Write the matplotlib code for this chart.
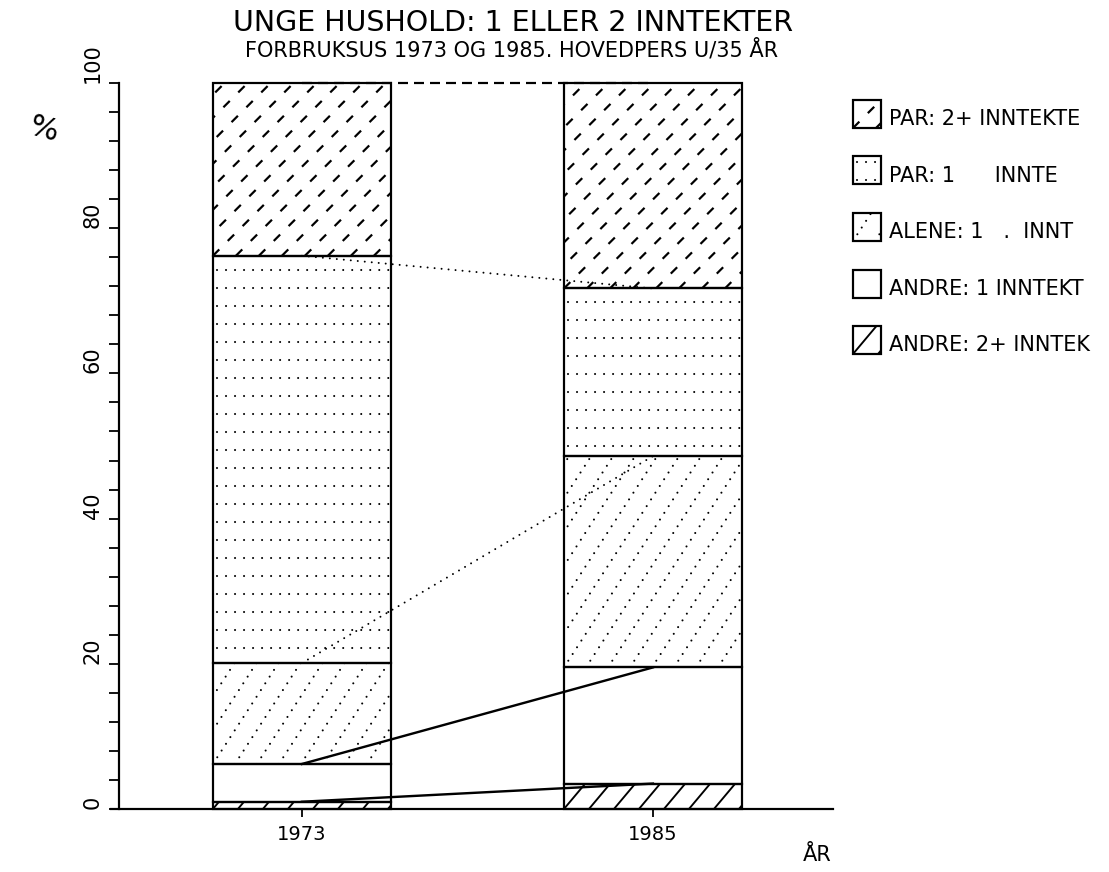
import numpy as np
import matplotlib
matplotlib.use("Agg")
import matplotlib.pyplot as plt
from matplotlib.lines import Line2D
from matplotlib.patches import Rectangle
from matplotlib.ticker import MultipleLocator
from matplotlib.transforms import IdentityTransform

W, H, DPI = 1109, 872, 100
PT = 72 / DPI  # points per pixel
plt.rcParams["lines.scale_dashes"] = False
plt.rcParams["font.family"] = "DejaVu Sans"

# --- data (percent of young households, bottom to top of each bar) ---
years = ["1973", "1985"]
andre_2 = [1.0, 3.5]     # ANDRE: 2+ inntekter
andre_1 = [5.2, 16.0]    # ANDRE: 1 inntekt
alene_1 = [13.9, 29.1]   # ALENE: 1 inntekt
par_1 = [56.1, 23.1]     # PAR: 1 inntekt
par_2 = [23.8, 28.3]     # PAR: 2+ inntekter

legend_labels = ["PAR: 2+ INNTEKTE", "PAR: 1      INNTE", "ALENE: 1   .  INNT",
                 "ANDRE: 1 INNTEKT", "ANDRE: 2+ INNTEK"]

series = [andre_2, andre_1, alene_1, par_1, par_2]
kinds = ["solid", "none", "dotdiag", "rows", "dash"]
link_styles = ["-", "-", "dotted", "dotted", "dashed"]


def pattern(ax, patch, kind, rows_first=14):
    """Fill a patch with plotter-like line patterns (in pixel space)."""
    if kind == "none":
        return
    bb = patch.get_window_extent()
    x0, y0, x1, y1 = bb.x0, bb.y0, bb.x1, bb.y1
    w, h = x1 - x0, y1 - y0
    segs = []
    if kind == "rows":
        ls, lw, cap = (0, (0.01, 9 * PT)), 2.1 * PT, "round"
        y = y1 - rows_first
        while y > y0 + 2:
            segs.append(([x0 + 4, x1], [y, y]))
            y -= 18
    else:
        ang, sx = {"solid": (50, 25), "dotdiag": (57, 22), "dash": (45, 23)}[kind]
        run = h / np.tan(np.radians(ang))
        for k in range(int(np.floor(-run / sx)) - 1, int(w / sx) + 2):
            xa = x0 + k * sx
            segs.append(([xa, xa + run], [y0, y1]))
        if kind == "solid":
            ls, lw, cap = "-", 1.9 * PT, "butt"
        elif kind == "dotdiag":
            ls, lw, cap = (0, (0.01, 8 * PT)), 2.1 * PT, "round"
        else:
            ls, lw, cap = (0, (9 * PT, 12 * PT)), 2.2 * PT, "butt"
    for xs, ys in segs:
        ln = Line2D(xs, ys, transform=IdentityTransform(), color="black",
                    linestyle=ls, linewidth=lw, dash_capstyle=cap,
                    solid_capstyle=cap, zorder=2)
        ax.add_artist(ln)
        ln.set_clip_path(patch)


fig = plt.figure(figsize=(W / DPI, H / DPI), dpi=DPI)
ax = fig.add_axes([119 / W, 1 - 809 / H, (833 - 119) / W, (809 - 83) / H])

x = np.arange(len(years))
ax.set_xlim(-0.521, 1.513)
ax.set_ylim(0, 100)

bottom = np.zeros(len(years))
for vals, kind in zip(series, kinds):
    bars = ax.bar(x, vals, bottom=bottom, width=0.507, facecolor="none",
                  edgecolor="black", linewidth=2.2 * PT, zorder=3, clip_on=False)
    for b in bars:
        pattern(ax, b, kind)
    bottom = bottom + np.array(vals)

# lines between the bar centres at each cumulative level
cum = np.cumsum(np.array(series), axis=0)
for level, st in zip(cum, link_styles):
    if st == "dotted":
        ax.plot(x, level, color="black", linewidth=2.0 * PT, clip_on=False,
                linestyle=(0, (0.01, 7 * PT)), dash_capstyle="round", zorder=2.5)
    elif st == "dashed":
        ax.plot(x, level, color="black", linewidth=2.2 * PT, clip_on=False,
                linestyle=(0, (10 * PT, 6 * PT)), zorder=2.5)
    else:
        ax.plot(x, level, color="black", linewidth=2.4 * PT, clip_on=False, zorder=2.5)

for s in ["top", "right"]:
    ax.spines[s].set_visible(False)
for s in ["left", "bottom"]:
    ax.spines[s].set_linewidth(2.2 * PT)
ax.spines["bottom"].set_bounds(-0.545, 1.513)

ax.set_yticks(range(0, 101, 20), [str(v) for v in range(0, 101, 20)],
              rotation=90, va="bottom", fontsize=15)
ax.yaxis.set_minor_locator(MultipleLocator(4))
ax.tick_params(axis="y", which="both", direction="out", length=10 * PT,
               width=1.8 * PT, pad=6 * PT)
ax.set_xticks(x, years, fontsize=14)
ax.tick_params(axis="x", direction="out", length=8 * PT, width=1.8 * PT, pad=8 * PT)

fig.text(513 / W, 1 - 23 / H, "UNGE HUSHOLD: 1 ELLER 2 INNTEKTER",
         ha="center", va="center", fontsize=20.5)
fig.text(512 / W, 1 - 50 / H, "FORBRUKSUS 1973 OG 1985. HOVEDPERS U/35 ÅR",
         ha="center", va="center", fontsize=15)
fig.text(817 / W, 1 - 855 / H, "ÅR", ha="center", va="center", fontsize=15)
fig.text(44 / W, 1 - 130 / H, "%", ha="center", va="center", fontsize=22,
         rotation=-15)

# legend drawn in pixel space on an overlay
lax = fig.add_axes([0, 0, 1, 1])
lax.set_xlim(0, W)
lax.set_ylim(H, 0)
lax.axis("off")
leg_kinds = kinds[::-1]
for i, (lab, kind) in enumerate(zip(legend_labels, leg_kinds)):
    top = 100 + i * 56.5
    box = Rectangle((853, top), 28, 28, facecolor="none", edgecolor="black",
                    linewidth=2.2 * PT, zorder=3)
    lax.add_patch(box)
    pattern(lax, box, kind, rows_first=6)
    lax.text(889, top + 29, lab, ha="left", va="bottom", fontsize=15)

fig.savefig("out.png", dpi=DPI)
